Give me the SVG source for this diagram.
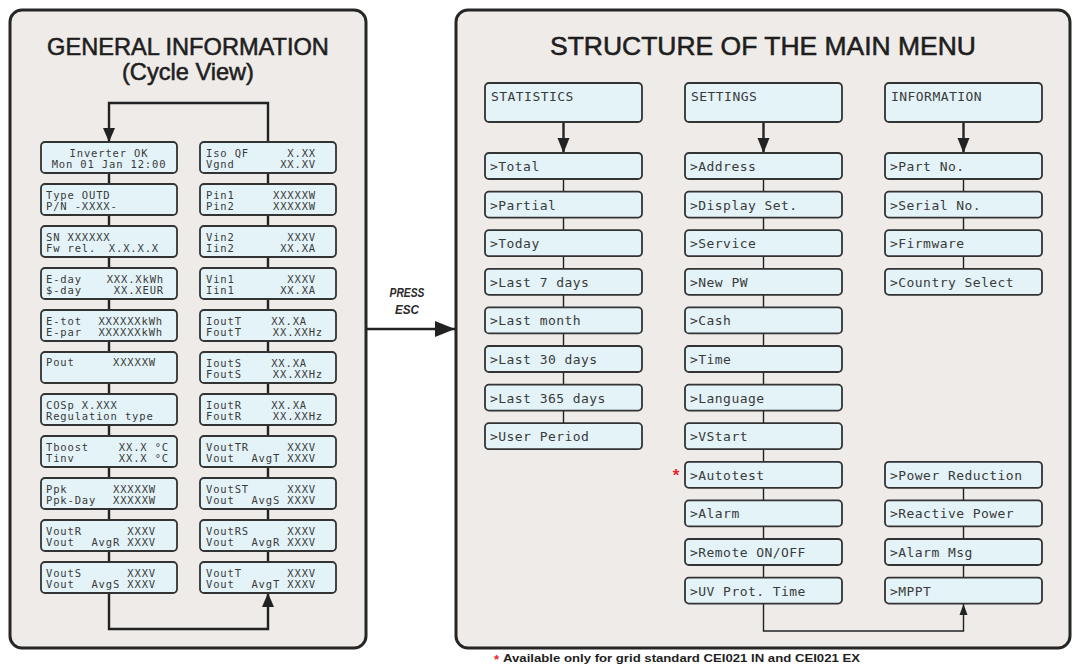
<svg xmlns="http://www.w3.org/2000/svg" width="1079" height="667" viewBox="0 0 1079 667">
  <style>
    .panel { fill: #eeebe8; stroke: #262626; stroke-width: 3; }
    .title { font-family: "Liberation Sans", Arial, sans-serif; font-size: 23.6px; fill: #1e1e1e; stroke: #1e1e1e; stroke-width: 0.55; text-anchor: middle; }
    .lcd { fill: #e3f3f8; stroke: #333; stroke-width: 1.8; }
    .t { font-family: "DejaVu Sans Mono", "Liberation Mono", monospace; font-size: 10.5px; letter-spacing: 0.85px; fill: #3a3a3a; }
    .v { text-anchor: end; }
    .c { text-anchor: middle; }
    .m { font-family: "DejaVu Sans Mono", "Liberation Mono", monospace; font-size: 13px; letter-spacing: 0.45px; fill: #3a3a3a; }
    .wire { fill: none; stroke: #222; stroke-width: 2.4; }
    .thin { fill: none; stroke: #222; stroke-width: 1.4; }
    .esc { font-family: "Liberation Sans", Arial, sans-serif; font-style: italic; font-weight: bold; font-size: 12.5px; fill: #2a2a2a; text-anchor: middle; }
    .note { font-family: "Liberation Sans", Arial, sans-serif; font-weight: bold; font-size: 11.5px; fill: #1e1e1e; }
    .star { fill: #e8262b; font-family: "Liberation Sans", Arial, sans-serif; font-weight: bold; }
  </style>
  <defs>
    <marker id="arrowBig" markerUnits="userSpaceOnUse" markerWidth="14" markerHeight="14" viewBox="0 0 14 12" refX="14" refY="6" orient="auto">
      <path d="M0 0 L14 6 L0 12 Z" fill="#222"/>
    </marker>
    <marker id="arrowMid" markerUnits="userSpaceOnUse" markerWidth="15" markerHeight="13" viewBox="0 0 15 12" refX="15" refY="6" orient="auto">
      <path d="M0 0 L15 6 L0 12 Z" fill="#222"/>
    </marker>
    <marker id="arrowSmall" markerUnits="userSpaceOnUse" markerWidth="11" markerHeight="9" viewBox="0 0 11 8" refX="11" refY="4" orient="auto">
      <path d="M0 0 L11 4 L0 8 Z" fill="#222"/>
    </marker>
    <marker id="arrowEsc" markerUnits="userSpaceOnUse" markerWidth="20" markerHeight="17" viewBox="0 0 20 16" refX="20" refY="8" orient="auto">
      <path d="M0 0 L20 8 L0 16 Z" fill="#222"/>
    </marker>
  </defs>

  <!-- panels -->
  <g id="panel-general">
    <rect class="panel" x="10" y="10" width="356" height="638" rx="12"/>
    <text class="title" x="188" y="55">GENERAL INFORMATION</text>
    <text class="title" x="188" y="80">(Cycle View)</text>
  </g>
  <g id="panel-menu">
    <rect class="panel" x="456" y="10" width="614" height="638" rx="12"/>
    <text class="title" x="763" y="55" textLength="426" lengthAdjust="spacingAndGlyphs" style="font-size:25px">STRUCTURE OF THE MAIN MENU</text>
  </g>

  <!-- connectors -->
  <g id="connectors">
    <!-- cycle view chains -->
    <path class="wire" d="M109 173 V562"/>
    <path class="wire" d="M268 173 V562"/>
    <path class="wire" d="M268 142 V103 H109 V142" marker-end="url(#arrowBig)"/>
    <path class="wire" d="M109 593 V629 H268 V593" marker-end="url(#arrowBig)"/>
    <!-- press esc -->
    <path class="wire" d="M366 329 H455" marker-end="url(#arrowEsc)"/>
    <!-- menu headers to first entries -->
    <path class="wire" d="M563.5 122 V153" marker-end="url(#arrowMid)"/>
    <path class="wire" d="M763.5 122 V153" marker-end="url(#arrowMid)"/>
    <path class="wire" d="M963.5 122 V153" marker-end="url(#arrowMid)"/>
    <!-- menu chains -->
    <path class="thin" d="M563.5 178 V424"/>
    <path class="thin" d="M763.5 178 V578"/>
    <path class="thin" d="M963.5 178 V269"/>
    <path class="thin" d="M963.5 487 V578"/>
    <path class="thin" d="M763.5 604 V631 H963.5 V604" marker-end="url(#arrowSmall)"/>
  </g>

  <!-- cycle view screens, left column -->
  <g id="lcd-inverter"><rect class="lcd" x="41" y="142" width="136" height="31" rx="4"/>
    <text class="t c" x="109" y="156.5">Inverter OK</text><text class="t c" x="109" y="168">Mon 01 Jan 12:00</text></g>
  <g id="lcd-type"><rect class="lcd" x="41" y="184" width="136" height="31" rx="4"/>
    <text class="t" x="46" y="198.5">Type OUTD</text><text class="t" x="46" y="210">P/N -XXXX-</text></g>
  <g id="lcd-sn"><rect class="lcd" x="41" y="226" width="136" height="31" rx="4"/>
    <text class="t" x="46" y="240.5">SN XXXXXX</text><text class="t" x="46" y="252">Fw rel.</text><text class="t v" x="159" y="252">X.X.X.X</text></g>
  <g id="lcd-eday"><rect class="lcd" x="41" y="268" width="136" height="31" rx="4"/>
    <text class="t" x="46" y="282.5">E-day</text><text class="t v" x="164" y="282.5">XXX.XkWh</text>
    <text class="t" x="46" y="294">$-day</text><text class="t v" x="164" y="294">XX.XEUR</text></g>
  <g id="lcd-etot"><rect class="lcd" x="41" y="310" width="136" height="31" rx="4"/>
    <text class="t" x="46" y="324.5">E-tot</text><text class="t v" x="163" y="324.5">XXXXXXkWh</text>
    <text class="t" x="46" y="336">E-par</text><text class="t v" x="163" y="336">XXXXXXkWh</text></g>
  <g id="lcd-pout"><rect class="lcd" x="41" y="352" width="136" height="31" rx="4"/>
    <text class="t" x="46" y="366">Pout</text><text class="t v" x="156" y="366">XXXXXW</text></g>
  <g id="lcd-cosp"><rect class="lcd" x="41" y="394" width="136" height="31" rx="4"/>
    <text class="t" x="46" y="408.5">COSp X.XXX</text><text class="t" x="46" y="420">Regulation type</text></g>
  <g id="lcd-temp"><rect class="lcd" x="41" y="436" width="136" height="31" rx="4"/>
    <text class="t" x="46" y="450.5">Tboost</text><text class="t v" x="169" y="450.5">XX.X °C</text>
    <text class="t" x="46" y="462">Tinv</text><text class="t v" x="169" y="462">XX.X °C</text></g>
  <g id="lcd-ppk"><rect class="lcd" x="41" y="478" width="136" height="31" rx="4"/>
    <text class="t" x="46" y="492.5">Ppk</text><text class="t v" x="156" y="492.5">XXXXXW</text>
    <text class="t" x="46" y="504">Ppk-Day</text><text class="t v" x="156" y="504">XXXXXW</text></g>
  <g id="lcd-voutr"><rect class="lcd" x="41" y="520" width="136" height="31" rx="4"/>
    <text class="t" x="46" y="534.5">VoutR</text><text class="t v" x="156" y="534.5">XXXV</text>
    <text class="t" x="46" y="546">Vout</text><text class="t v" x="156" y="546">AvgR XXXV</text></g>
  <g id="lcd-vouts"><rect class="lcd" x="41" y="562" width="136" height="31" rx="4"/>
    <text class="t" x="46" y="576.5">VoutS</text><text class="t v" x="156" y="576.5">XXXV</text>
    <text class="t" x="46" y="588">Vout</text><text class="t v" x="156" y="588">AvgS XXXV</text></g>

  <!-- cycle view screens, right column -->
  <g id="lcd-iso"><rect class="lcd" x="200" y="142" width="136" height="31" rx="4"/>
    <text class="t" x="206" y="156.5">Iso QF</text><text class="t v" x="316" y="156.5">X.XX</text>
    <text class="t" x="206" y="168">Vgnd</text><text class="t v" x="316" y="168">XX.XV</text></g>
  <g id="lcd-pin"><rect class="lcd" x="200" y="184" width="136" height="31" rx="4"/>
    <text class="t" x="206" y="198.5">Pin1</text><text class="t v" x="316" y="198.5">XXXXXW</text>
    <text class="t" x="206" y="210">Pin2</text><text class="t v" x="316" y="210">XXXXXW</text></g>
  <g id="lcd-vin2"><rect class="lcd" x="200" y="226" width="136" height="31" rx="4"/>
    <text class="t" x="206" y="240.5">Vin2</text><text class="t v" x="316" y="240.5">XXXV</text>
    <text class="t" x="206" y="252">Iin2</text><text class="t v" x="316" y="252">XX.XA</text></g>
  <g id="lcd-vin1"><rect class="lcd" x="200" y="268" width="136" height="31" rx="4"/>
    <text class="t" x="206" y="282.5">Vin1</text><text class="t v" x="316" y="282.5">XXXV</text>
    <text class="t" x="206" y="294">Iin1</text><text class="t v" x="316" y="294">XX.XA</text></g>
  <g id="lcd-ioutt"><rect class="lcd" x="200" y="310" width="136" height="31" rx="4"/>
    <text class="t" x="206" y="324.5">IoutT</text><text class="t v" x="307" y="324.5">XX.XA</text>
    <text class="t" x="206" y="336">FoutT</text><text class="t v" x="323" y="336">XX.XXHz</text></g>
  <g id="lcd-iouts"><rect class="lcd" x="200" y="352" width="136" height="31" rx="4"/>
    <text class="t" x="206" y="366.5">IoutS</text><text class="t v" x="307" y="366.5">XX.XA</text>
    <text class="t" x="206" y="378">FoutS</text><text class="t v" x="323" y="378">XX.XXHz</text></g>
  <g id="lcd-ioutr"><rect class="lcd" x="200" y="394" width="136" height="31" rx="4"/>
    <text class="t" x="206" y="408.5">IoutR</text><text class="t v" x="307" y="408.5">XX.XA</text>
    <text class="t" x="206" y="420">FoutR</text><text class="t v" x="323" y="420">XX.XXHz</text></g>
  <g id="lcd-vouttr"><rect class="lcd" x="200" y="436" width="136" height="31" rx="4"/>
    <text class="t" x="206" y="450.5">VoutTR</text><text class="t v" x="316" y="450.5">XXXV</text>
    <text class="t" x="206" y="462">Vout</text><text class="t v" x="316" y="462">AvgT XXXV</text></g>
  <g id="lcd-voutst"><rect class="lcd" x="200" y="478" width="136" height="31" rx="4"/>
    <text class="t" x="206" y="492.5">VoutST</text><text class="t v" x="316" y="492.5">XXXV</text>
    <text class="t" x="206" y="504">Vout</text><text class="t v" x="316" y="504">AvgS XXXV</text></g>
  <g id="lcd-voutrs"><rect class="lcd" x="200" y="520" width="136" height="31" rx="4"/>
    <text class="t" x="206" y="534.5">VoutRS</text><text class="t v" x="316" y="534.5">XXXV</text>
    <text class="t" x="206" y="546">Vout</text><text class="t v" x="316" y="546">AvgR XXXV</text></g>
  <g id="lcd-voutt"><rect class="lcd" x="200" y="562" width="136" height="31" rx="4"/>
    <text class="t" x="206" y="576.5">VoutT</text><text class="t v" x="316" y="576.5">XXXV</text>
    <text class="t" x="206" y="588">Vout</text><text class="t v" x="316" y="588">AvgT XXXV</text></g>

  <!-- press esc label -->
  <g id="label-esc">
    <text class="esc" x="407" y="297" textLength="35" lengthAdjust="spacingAndGlyphs">PRESS</text>
    <text class="esc" x="407" y="314" textLength="24" lengthAdjust="spacingAndGlyphs">ESC</text>
  </g>

  <!-- menu headers -->
  <g id="menu-statistics"><rect class="lcd" x="485" y="83" width="157" height="39" rx="4"/><text class="m" x="491" y="101">STATISTICS</text></g>
  <g id="menu-settings"><rect class="lcd" x="685" y="83" width="157" height="39" rx="4"/><text class="m" x="691" y="101">SETTINGS</text></g>
  <g id="menu-information"><rect class="lcd" x="885" y="83" width="157" height="39" rx="4"/><text class="m" x="891" y="101">INFORMATION</text></g>

  <!-- statistics entries -->
  <g id="stat-total"><rect class="lcd" x="485" y="153" width="157" height="26" rx="4"/><text class="m" x="490" y="171">&gt;Total</text></g>
  <g id="stat-partial"><rect class="lcd" x="485" y="191.6" width="157" height="26" rx="4"/><text class="m" x="490" y="209.6">&gt;Partial</text></g>
  <g id="stat-today"><rect class="lcd" x="485" y="230.2" width="157" height="26" rx="4"/><text class="m" x="490" y="248.2">&gt;Today</text></g>
  <g id="stat-last7"><rect class="lcd" x="485" y="268.8" width="157" height="26" rx="4"/><text class="m" x="490" y="286.8">&gt;Last 7 days</text></g>
  <g id="stat-lastmonth"><rect class="lcd" x="485" y="307.4" width="157" height="26" rx="4"/><text class="m" x="490" y="325.4">&gt;Last month</text></g>
  <g id="stat-last30"><rect class="lcd" x="485" y="346" width="157" height="26" rx="4"/><text class="m" x="490" y="364">&gt;Last 30 days</text></g>
  <g id="stat-last365"><rect class="lcd" x="485" y="384.6" width="157" height="26" rx="4"/><text class="m" x="490" y="402.6">&gt;Last 365 days</text></g>
  <g id="stat-userperiod"><rect class="lcd" x="485" y="423.2" width="157" height="26" rx="4"/><text class="m" x="490" y="441.2">&gt;User Period</text></g>

  <!-- settings entries -->
  <g id="set-address"><rect class="lcd" x="685" y="153" width="157" height="26" rx="4"/><text class="m" x="690" y="171">&gt;Address</text></g>
  <g id="set-display"><rect class="lcd" x="685" y="191.6" width="157" height="26" rx="4"/><text class="m" x="690" y="209.6">&gt;Display Set.</text></g>
  <g id="set-service"><rect class="lcd" x="685" y="230.2" width="157" height="26" rx="4"/><text class="m" x="690" y="248.2">&gt;Service</text></g>
  <g id="set-newpw"><rect class="lcd" x="685" y="268.8" width="157" height="26" rx="4"/><text class="m" x="690" y="286.8">&gt;New PW</text></g>
  <g id="set-cash"><rect class="lcd" x="685" y="307.4" width="157" height="26" rx="4"/><text class="m" x="690" y="325.4">&gt;Cash</text></g>
  <g id="set-time"><rect class="lcd" x="685" y="346" width="157" height="26" rx="4"/><text class="m" x="690" y="364">&gt;Time</text></g>
  <g id="set-language"><rect class="lcd" x="685" y="384.6" width="157" height="26" rx="4"/><text class="m" x="690" y="402.6">&gt;Language</text></g>
  <g id="set-vstart"><rect class="lcd" x="685" y="423.2" width="157" height="26" rx="4"/><text class="m" x="690" y="441.2">&gt;VStart</text></g>
  <g id="set-autotest"><rect class="lcd" x="685" y="461.8" width="157" height="26" rx="4"/><text class="m" x="690" y="479.8">&gt;Autotest</text>
    <text class="star" x="676" y="481" font-size="17" text-anchor="middle">*</text></g>
  <g id="set-alarm"><rect class="lcd" x="685" y="500.4" width="157" height="26" rx="4"/><text class="m" x="690" y="518.4">&gt;Alarm</text></g>
  <g id="set-remote"><rect class="lcd" x="685" y="539" width="157" height="26" rx="4"/><text class="m" x="690" y="557">&gt;Remote ON/OFF</text></g>
  <g id="set-uvprot"><rect class="lcd" x="685" y="577.6" width="157" height="26" rx="4"/><text class="m" x="690" y="595.6">&gt;UV Prot. Time</text></g>

  <!-- information entries -->
  <g id="info-partno"><rect class="lcd" x="885" y="153" width="157" height="26" rx="4"/><text class="m" x="890" y="171">&gt;Part No.</text></g>
  <g id="info-serial"><rect class="lcd" x="885" y="191.6" width="157" height="26" rx="4"/><text class="m" x="890" y="209.6">&gt;Serial No.</text></g>
  <g id="info-firmware"><rect class="lcd" x="885" y="230.2" width="157" height="26" rx="4"/><text class="m" x="890" y="248.2">&gt;Firmware</text></g>
  <g id="info-country"><rect class="lcd" x="885" y="268.8" width="157" height="26" rx="4"/><text class="m" x="890" y="286.8">&gt;Country Select</text></g>
  <g id="info-powerred"><rect class="lcd" x="885" y="461.8" width="157" height="26" rx="4"/><text class="m" x="890" y="479.8">&gt;Power Reduction</text></g>
  <g id="info-reactive"><rect class="lcd" x="885" y="500.4" width="157" height="26" rx="4"/><text class="m" x="890" y="518.4">&gt;Reactive Power</text></g>
  <g id="info-alarmmsg"><rect class="lcd" x="885" y="539" width="157" height="26" rx="4"/><text class="m" x="890" y="557">&gt;Alarm Msg</text></g>
  <g id="info-mppt"><rect class="lcd" x="885" y="577.6" width="157" height="26" rx="4"/><text class="m" x="890" y="595.6">&gt;MPPT</text></g>

  <!-- footnote -->
  <g id="footnote">
    <text class="star" x="494" y="664" font-size="13">*</text>
    <text class="note" x="503" y="662" textLength="357" lengthAdjust="spacingAndGlyphs">Available only for grid standard CEI021 IN and CEI021 EX</text>
  </g>
</svg>
